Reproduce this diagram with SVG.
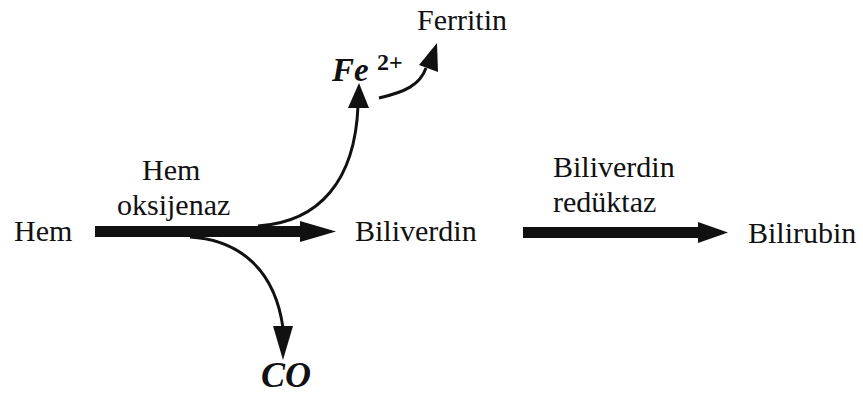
<svg xmlns="http://www.w3.org/2000/svg" width="863" height="399" viewBox="0 0 863 399">
<style>
.t{font-family:"Liberation Serif","Times New Roman",serif;font-size:30px;fill:#111}
.b{font-family:"Liberation Serif","Times New Roman",serif;font-weight:bold;font-style:italic;fill:#111}
.c{fill:none;stroke:#111;stroke-width:3}
.h{fill:#111}
</style>
<rect width="863" height="399" fill="#fff"/>
<g id="connectors">
<path d="M95,226 H300 V221 L336,231.5 L300,242 V237 H95 Z" class="h"/>
<path d="M523,227 H698 V222 L728,232.5 L698,243 V238 H523 Z" class="h"/>
<path class="c" d="M258,226 C320,222 355,180 358,106"/>
<path class="h" d="M348,108 L359,83 L369,108 Z"/>
<path class="c" d="M379,98 C405,92 420,85 426,68"/>
<path class="h" d="M419,65 L437,43 L438,72 Z"/>
<path class="c" d="M190,237 C240,240 275,270 283,328"/>
<path class="h" d="M273,326 L283,360 L293,326 Z"/>
</g>
<g id="hem"><text class="t" x="14" y="241">Hem</text></g>
<g id="hem-oksijenaz"><text class="t" x="142" y="180">Hem</text><text class="t" x="117" y="215">oksijenaz</text></g>
<g id="biliverdin"><text class="t" x="355" y="241">Biliverdin</text></g>
<g id="biliverdin-reduktaz"><text class="t" x="553" y="177">Biliverdin</text><text class="t" x="553" y="212">redüktaz</text></g>
<g id="bilirubin"><text class="t" x="748" y="243">Bilirubin</text></g>
<g id="fe"><text class="b" x="332" y="81" font-size="33">Fe</text><text x="377" y="70" font-size="24" font-weight="bold" font-family="Liberation Serif,serif" fill="#111">2+</text></g>
<g id="ferritin"><text class="t" x="417" y="30">Ferritin</text></g>
<g id="co"><text class="b" x="261" y="387" font-size="36">CO</text></g>
</svg>
